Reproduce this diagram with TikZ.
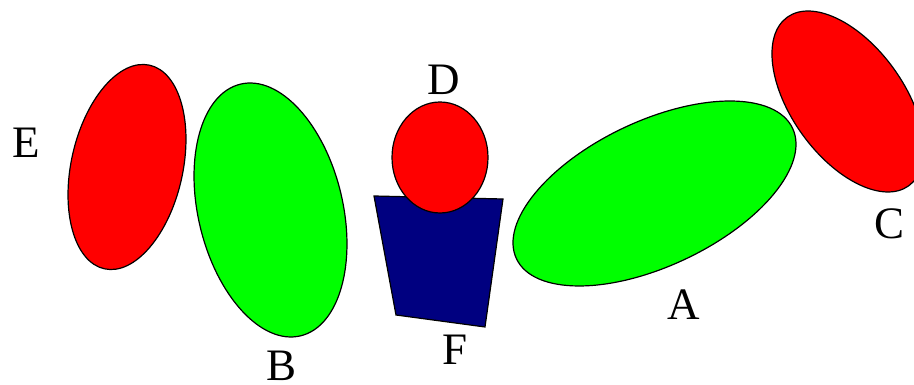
\documentclass[tikz,border=0pt]{standalone}
\usepackage{fontspec}
\setmainfont{Liberation Serif}
\usetikzlibrary{shapes.geometric}
\definecolor{fillred}{RGB}{255,0,0}
\definecolor{fillgreen}{RGB}{0,255,0}
\definecolor{fillnavy}{RGB}{0,0,128}
\tikzset{
  blob/.style={ellipse, draw=black, line width=1.2pt, inner sep=0pt},
  lbl/.style={anchor=base, inner sep=0pt, font=\fontsize{45}{54}\selectfont}
}
\begin{document}
\begin{tikzpicture}[x=1pt,y=1pt]
\useasboundingbox (0,0) rectangle (914,385);
\clip (0,0) rectangle (914,385);
% E
\node[blob, fill=fillred, rotate=77.5, minimum width=208.6pt, minimum height=111.6pt] (E) at (127,218) {};
% B
\node[blob, fill=fillgreen, rotate=103.4, minimum width=258.8pt, minimum height=144.6pt] (B) at (270.5,175) {};
% F trapezoid
\coordinate (F1) at (374,189);
\coordinate (F2) at (503,186);
\coordinate (F3) at (485,58);
\coordinate (F4) at (396,70);
\draw[fill=fillnavy, line width=1.2pt] (F1) -- (F2) -- (F3) -- (F4) -- cycle;
% D
\node[blob, fill=fillred, minimum width=96pt, minimum height=111pt] (D) at (440,227.5) {};
% A
\node[blob, fill=fillgreen, rotate=25.3, minimum width=305.4pt, minimum height=145pt] (A) at (654.5,191.5) {};
% C
\node[blob, fill=fillred, rotate=125.8, minimum width=207.8pt, minimum height=112.6pt] (C) at (848,283.5) {};
% labels
\node[lbl] (lE) at (26,227) {E};
\node[lbl] (lB) at (282,4) {B};
\node[lbl] (lD) at (444,290) {D};
\node[lbl] (lF) at (455,20) {F};
\node[lbl] (lA) at (684,65) {A};
\node[lbl] (lC) at (890,146) {C};
\end{tikzpicture}
\end{document}
